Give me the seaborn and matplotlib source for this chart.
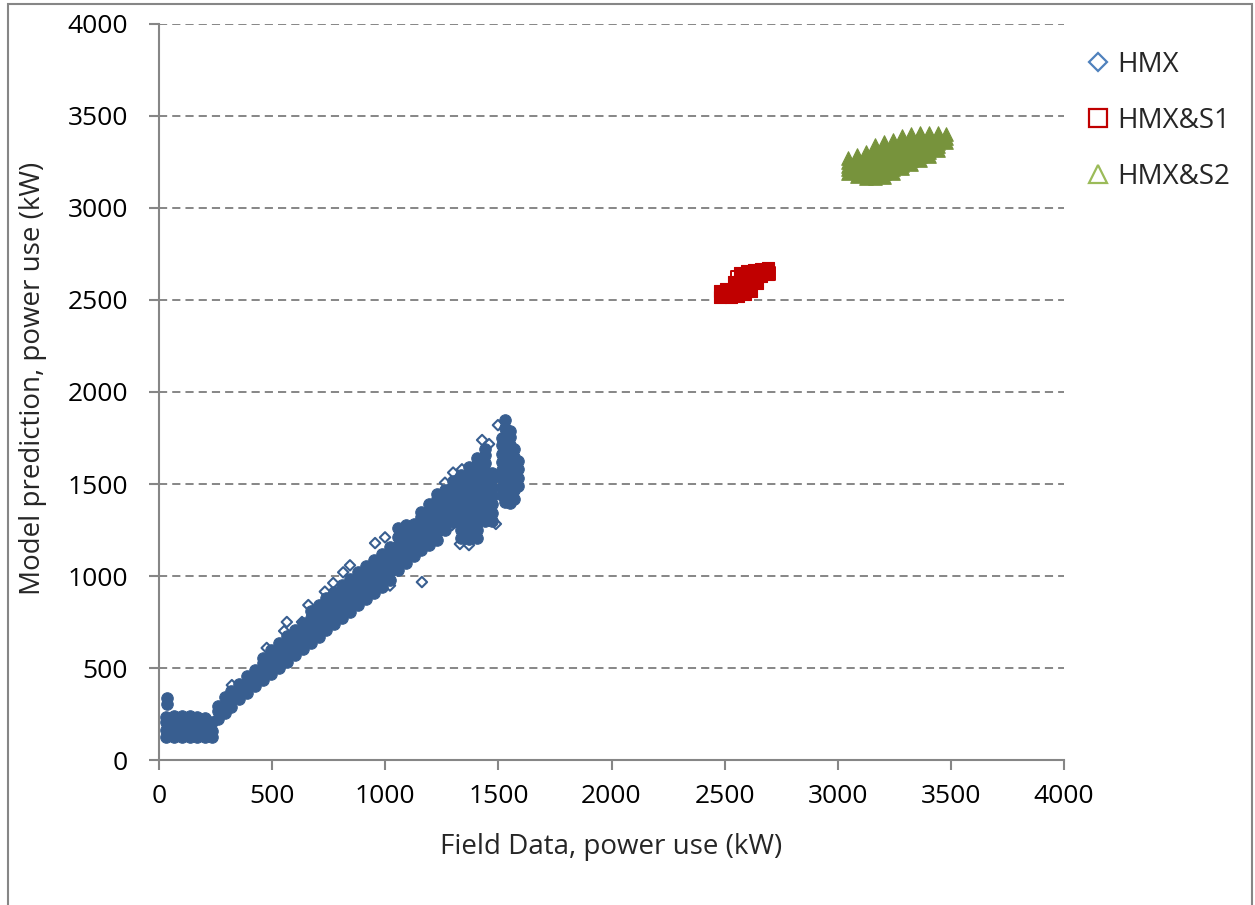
import numpy as np
import pandas as pd
import matplotlib
matplotlib.use("Agg")
import matplotlib.pyplot as plt
import seaborn as sns
from matplotlib.lines import Line2D
from matplotlib.patches import Rectangle

sns.set_theme(style="white")
plt.rcParams['font.family'] = ['Open Sans', 'DejaVu Sans']

# ---------------- data ----------------
series_names = ["HMX", "HMX&S1", "HMX&S2"]
x_ticks = [0, 500, 1000, 1500, 2000, 2500, 3000, 3500, 4000]
y_ticks = [0, 500, 1000, 1500, 2000, 2500, 3000, 3500, 4000]

# HMX dense core: field-data x -> model-prediction y values
hmx_core = {
    30: [125, 165, 205, 235],
    35: [305, 335],
    65: [125, 165, 205, 240],
    100: [125, 165, 205, 240],
    135: [125, 165, 205, 240],
    170: [125, 165, 205, 235],
    205: [125, 160, 200, 230],
    235: [125, 160, 205],
    260: [225, 265, 295],
    290: [255, 300, 340],
    320: [290, 335, 375],
    355: [330, 375, 415],
    390: [365, 410, 455],
    425: [400, 445, 490],
    460: [435, 480, 525, 555],
    495: [465, 510, 555, 600],
    530: [500, 545, 590, 635],
    565: [535, 580, 625, 675],
    600: [570, 615, 660, 705],
    635: [605, 650, 695, 745],
    670: [635, 680, 725, 770, 810],
    705: [670, 715, 760, 805, 845],
    740: [705, 750, 795, 840, 880],
    775: [740, 785, 830, 875, 915],
    810: [770, 815, 860, 905, 950],
    845: [805, 850, 895, 940, 985],
    880: [840, 885, 930, 975, 1020],
    915: [875, 920, 965, 1010, 1055],
    950: [905, 950, 995, 1040, 1085],
    985: [940, 985, 1030, 1075, 1120],
    1020: [980, 1025, 1070, 1115, 1160],
    1055: [1030, 1075, 1120, 1165, 1210, 1260],
    1090: [1070, 1115, 1160, 1205, 1250, 1275],
    1125: [1110, 1150, 1195, 1240, 1280],
    1160: [1140, 1185, 1230, 1275, 1320, 1350],
    1195: [1170, 1215, 1260, 1305, 1350, 1390],
    1230: [1195, 1240, 1285, 1330, 1375, 1420, 1445],
    1265: [1250, 1295, 1340, 1385, 1430, 1470],
    1300: [1295, 1340, 1385, 1430, 1475, 1515],
    1335: [1205, 1250, 1295, 1340, 1385, 1430, 1475, 1520, 1550],
    1370: [1200, 1245, 1290, 1335, 1380, 1425, 1470, 1515, 1560, 1590],
    1405: [1205, 1250, 1295, 1340, 1385, 1430, 1475, 1520, 1565, 1610, 1640],
    1440: [1300, 1345, 1390, 1435, 1480, 1525, 1570, 1615, 1655, 1690],
    1470: [1300, 1345, 1390, 1435, 1480, 1525, 1560],
    1515: [1440, 1485, 1530, 1575, 1620, 1665, 1710, 1750],
    1530: [1400, 1445, 1490, 1535, 1580, 1625, 1670, 1715, 1760, 1805, 1850],
    1550: [1395, 1440, 1485, 1530, 1575, 1620, 1665, 1710, 1755, 1790],
    1570: [1420, 1465, 1510, 1555, 1600, 1645, 1690],
    1585: [1490, 1535, 1580, 1625],
}
# HMX scattered (visible, open) markers
hmx_open_x = [322, 476, 553, 565, 632, 660, 733, 770, 814, 844, 955, 999, 1021,
              1162, 1264, 1300, 1339, 1428, 1459, 1330, 1370, 1489, 1295, 1498]
hmx_open_y = [407, 609, 701, 750, 750, 842, 915, 962, 1020, 1058, 1179, 1210, 948,
              967, 1507, 1562, 1580, 1739, 1717, 1174, 1168, 1283, 1277, 1820]

# HMX&S1 cluster
s1_x = [2480, 2480, 2505, 2505, 2530, 2530, 2560, 2560, 2590, 2590, 2615, 2615,
        2540, 2570, 2570, 2600, 2600, 2630, 2630, 2660, 2660, 2690, 2690, 2645]
s1_y = [2515, 2550, 2520, 2560, 2515, 2555, 2520, 2560, 2530, 2570, 2550, 2590,
        2600, 2605, 2645, 2620, 2660, 2625, 2665, 2630, 2670, 2640, 2675, 2595]
s1_open_x = [2695, 2555]
s1_open_y = [2645, 2625]

# HMX&S2 cluster: x -> y values
s2_core = {
    3045: [3190, 3210, 3230, 3250, 3270],
    3085: [3175, 3195, 3215, 3235, 3255, 3275, 3290],
    3125: [3165, 3185, 3205, 3225, 3245, 3265, 3285, 3305],
    3165: [3165, 3185, 3205, 3225, 3245, 3265, 3285, 3305, 3325, 3340],
    3205: [3170, 3190, 3210, 3230, 3250, 3270, 3290, 3310, 3330, 3350, 3360],
    3245: [3190, 3210, 3230, 3250, 3270, 3290, 3310, 3330, 3350, 3370],
    3285: [3215, 3235, 3255, 3275, 3295, 3315, 3335, 3355, 3375, 3390],
    3325: [3240, 3260, 3280, 3300, 3320, 3340, 3360, 3380, 3400],
    3365: [3260, 3280, 3300, 3320, 3340, 3360, 3380, 3400, 3410],
    3405: [3285, 3305, 3325, 3345, 3365, 3385, 3405],
    3445: [3315, 3335, 3355, 3375, 3395, 3410],
    3480: [3360, 3380, 3400],
}

# ---------------- long-form tables ----------------
hmx_df = pd.DataFrame([(x, y) for x, ys in hmx_core.items() for y in ys], columns=["x", "y"])
hmx_open_df = pd.DataFrame({"x": hmx_open_x, "y": hmx_open_y})
s1_df = pd.DataFrame({"x": s1_x, "y": s1_y})
s1_open_df = pd.DataFrame({"x": s1_open_x, "y": s1_open_y})
s2_df = pd.DataFrame([(x, y) for x, ys in s2_core.items() for y in ys], columns=["x", "y"])

blue_data = "#385E90"
red = "#C00000"
green_data = "#77933C"
grey = "#868686"
FS = 19
FS_LAB = 20

fig = plt.figure(figsize=(12.55, 9.05), dpi=100)
fig.patch.set_facecolor("white")
ax = fig.add_axes([159/1255, 1-760/905, 905/1255, 736/905])

# dense cores
sns.scatterplot(data=hmx_df, x="x", y="y", marker="o", s=68, color=blue_data,
                edgecolor=blue_data, linewidth=0.8, ax=ax, legend=False, zorder=3)
sns.scatterplot(data=hmx_open_df, x="x", y="y", marker="D", s=28, color=blue_data,
                facecolor="none", edgecolor=blue_data, linewidth=1.5, ax=ax,
                legend=False, zorder=3)
sns.scatterplot(data=s1_df, x="x", y="y", marker="s", s=85, color=red,
                edgecolor=red, linewidth=0.8, ax=ax, legend=False, zorder=3)
sns.scatterplot(data=s1_open_df, x="x", y="y", marker="s", s=85, color=red,
                facecolor="none", edgecolor=red, linewidth=1.4, ax=ax,
                legend=False, zorder=3)
sns.scatterplot(data=s2_df, x="x", y="y", marker="^", s=95, color=green_data,
                edgecolor=green_data, linewidth=0.8, ax=ax, legend=False, zorder=3)

ax.set_xlim(0, 4000)
ax.set_ylim(0, 4000)
ax.set_xticks(x_ticks)
ax.set_yticks(y_ticks)
ax.set_xticklabels([str(t) for t in x_ticks])
ax.set_yticklabels([str(t) for t in y_ticks])

ax.tick_params(axis="both", which="major", direction="out", length=7.2, width=1.5,
               color=grey, labelsize=FS, labelcolor="black")
ax.tick_params(axis="x", pad=10, bottom=True)
ax.tick_params(axis="y", pad=15, left=True)

for side in ["top", "right"]:
    ax.spines[side].set_visible(False)
for side in ["left", "bottom"]:
    ax.spines[side].set_color(grey)
    ax.spines[side].set_linewidth(1.5)

ax.yaxis.grid(True, color=grey, linewidth=1.4, linestyle=(0, (4.2, 2.6)))
ax.xaxis.grid(False)
ax.set_axisbelow(True)

ax.set_xlabel("Field Data, power use (kW)", fontsize=FS_LAB)
ax.set_ylabel("Model prediction, power use (kW)", fontsize=FS_LAB)
ax.xaxis.set_label_coords(0.5, -0.099)
ax.yaxis.set_label_coords(-0.124, 0.519)

handles = [
    Line2D([], [], marker="D", linestyle="none", markerfacecolor="none",
           markeredgecolor="#4F81BD", markersize=9.5, markeredgewidth=1.6, label=series_names[0]),
    Line2D([], [], marker="s", linestyle="none", markerfacecolor="none",
           markeredgecolor="#C00000", markersize=13.5, markeredgewidth=1.6, label=series_names[1]),
    Line2D([], [], marker="^", linestyle="none", markerfacecolor="none",
           markeredgecolor="#9BBB59", markersize=13.5, markeredgewidth=1.6, label=series_names[2]),
]
ax.legend(handles=handles, loc="upper left", bbox_to_anchor=(1084/1255, 1-51/905),
          bbox_transform=fig.transFigure, frameon=False, fontsize=FS_LAB,
          borderaxespad=0, borderpad=0, handlelength=1.0, handletextpad=0.2,
          labelspacing=1.0)

fig.patches.append(Rectangle((8/1255, -0.05), 1244/1255, 1.05 - 4/905,
                             transform=fig.transFigure, fill=False,
                             edgecolor=grey, linewidth=1.5))

fig.savefig("out.png", dpi=100, facecolor="white")
